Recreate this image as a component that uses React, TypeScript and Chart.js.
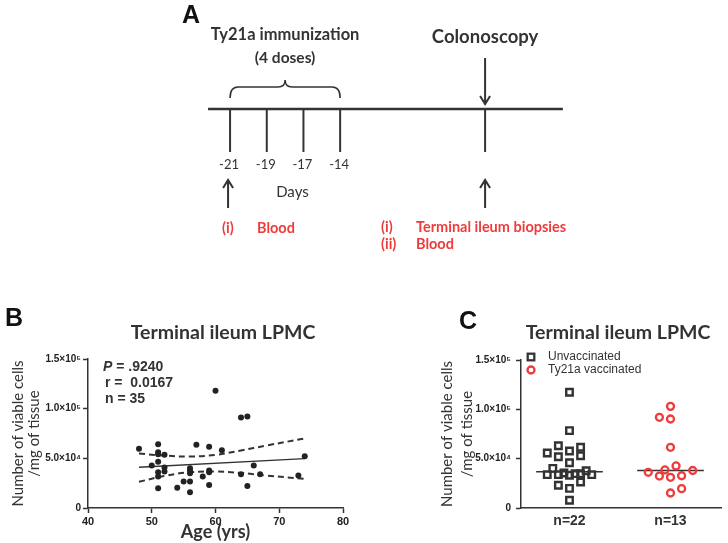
import React, { useEffect, useRef } from 'react';
import { Chart, registerables } from 'chart.js';

Chart.register(...registerables);

// ---------------- Panel A: study timeline ----------------
const doseDayLabels = ['-21', '-19', '-17', '-14'];
const doseSlots = [0, 1, 2, 3];
const colonoscopySlot = 6.95;
const timelineStart = -0.6;
const timelineEnd = 9.07;
const preSampleTags = ['(i)'];
const preSamples = ['Blood'];
const postSampleTags = ['(i)', '(ii)'];
const postSamples = ['Terminal ileum biopsies', 'Blood'];

// ---------------- Panel B: age vs viable cells ----------------
const agesB = [48, 50, 51, 51, 51, 51, 51, 51, 51, 52, 52, 52, 54, 55, 56, 56, 56, 56, 56, 57, 58, 59, 59, 59, 59, 60, 61, 64, 64, 65, 65, 66, 67, 73, 74];
const cellsB = [59600, 42700, 64300, 56200, 54000, 46500, 36000, 31600, 19900, 53500, 40700, 36700, 20500, 26600, 40000, 38000, 35000, 26600, 15800, 63600, 31600, 61600, 37700, 36000, 23200, 118000, 58200, 91200, 34000, 92200, 22200, 42700, 34000, 32600, 52200];
const fitAges = [48, 74];
const fitCells = [41000, 49800];
const bandAges = [48, 52, 56, 60, 64, 68, 74];
const upperBand = [54800, 52800, 51800, 53500, 57900, 62900, 70000];
const lowerBand = [26400, 32300, 36000, 36700, 35300, 32700, 29300];
const statLines = ['= .9240', 'r =  0.0167', 'n = 35'];

// ---------------- Panel C: unvaccinated vs vaccinated ----------------
const groupLabels = ['n=22', 'n=13'];
const groupNames = ['Unvaccinated', 'Ty21a vaccinated'];
const unvacCells = [117300, 78400, 63100, 55700, 57800, 61500, 52000, 53000, 45900, 40200, 37800, 33800, 33800, 35500, 33200, 34800, 34800, 33800, 23000, 26400, 19900, 7800];
const unvacColumn = [0, 0, -2, -4, 0, 2, -2, 2, 0, -3, 3, -4, -2, -1, 0, 1, 2, 4, -2, 2, 0, 0];
const vacCells = [103000, 91900, 90200, 61500, 42600, 38600, 36200, 38000, 32400, 31100, 32700, 19600, 15200];
const vacColumn = [0, -2, 0, 0, 1, -1, -4, 4, -2, 0, 2, 2, 0];

// shared y ticks
const yTickValues = [0, 50000, 100000, 150000];
const yTickLabels = ['0', '5.0\u00d710\u2074', '1.0\u00d710\u2075', '1.5\u00d710\u2075'];

const DARK = '#333333';
const RED = '#ee3b3b';
const CAL = 'Lato, "Open Sans", sans-serif';
const ARIAL = '"Liberation Sans", Arial, sans-serif';

type TextItem = { text: string; x: number; y: number; font: string; color: string; align?: CanvasTextAlign };

function drawTexts(ctx: CanvasRenderingContext2D, items: TextItem[]) {
  ctx.save();
  ctx.textBaseline = 'middle';
  for (const it of items) {
    ctx.font = it.font;
    ctx.fillStyle = it.color;
    ctx.textAlign = it.align || 'center';
    ctx.fillText(it.text, it.x, it.y);
  }
  ctx.restore();
}

function median(vals: number[]) {
  const s = [...vals].sort((a, b) => a - b);
  const m = Math.floor(s.length / 2);
  return s.length % 2 ? s[m] : (s[m - 1] + s[m]) / 2;
}

function arrow(ctx: CanvasRenderingContext2D, x: number, yFrom: number, yTip: number) {
  const dir = yTip > yFrom ? 1 : -1;
  ctx.beginPath();
  ctx.moveTo(x, yFrom);
  ctx.lineTo(x, yTip);
  ctx.moveTo(x - 5, yTip - dir * 8);
  ctx.lineTo(x, yTip);
  ctx.lineTo(x + 5, yTip - dir * 8);
  ctx.stroke();
}

const timelinePlugin = {
  id: 'timeline',
  afterDraw(chart: any) {
    const ctx: CanvasRenderingContext2D = chart.ctx;
    const xs = chart.scales.x;
    const X = (s: number) => xs.getPixelForValue(s);
    const lineY = 109;
    ctx.save();
    ctx.strokeStyle = DARK;
    ctx.lineWidth = 2.3;
    ctx.beginPath();
    ctx.moveTo(X(timelineStart), lineY);
    ctx.lineTo(X(timelineEnd), lineY);
    ctx.stroke();
    ctx.lineWidth = 2;
    [...doseSlots, colonoscopySlot].forEach((s) => {
      ctx.beginPath();
      ctx.moveTo(X(s), lineY);
      ctx.lineTo(X(s), 152);
      ctx.stroke();
    });
    // brace
    const b0 = X(doseSlots[0]);
    const b1 = X(doseSlots[doseSlots.length - 1]);
    const bm = (b0 + b1) / 2;
    ctx.lineWidth = 1.6;
    ctx.beginPath();
    ctx.moveTo(b0, 98);
    ctx.quadraticCurveTo(b0, 87, b0 + 8, 87);
    ctx.lineTo(bm - 7, 87);
    ctx.quadraticCurveTo(bm, 87, bm, 80);
    ctx.quadraticCurveTo(bm, 87, bm + 7, 87);
    ctx.lineTo(b1 - 8, 87);
    ctx.quadraticCurveTo(b1, 87, b1, 98);
    ctx.stroke();
    // arrows
    ctx.lineWidth = 2;
    arrow(ctx, X(colonoscopySlot), 58, 104);
    arrow(ctx, X(doseSlots[0]) - 2, 208, 180);
    arrow(ctx, X(colonoscopySlot), 208, 180);
    ctx.restore();

    const items: TextItem[] = [
      { text: 'A', x: 191, y: 16, font: `bold 25px ${ARIAL}`, color: '#111' },
      { text: 'Ty21a immunization', x: bm, y: 35, font: `bold 16.5px ${CAL}`, color: DARK },
      { text: '(4 doses)', x: bm, y: 58, font: `bold 15.5px ${CAL}`, color: DARK },
      { text: 'Colonoscopy', x: X(colonoscopySlot), y: 37, font: `bold 18.5px ${CAL}`, color: DARK },
      { text: 'Days', x: X(1.7), y: 192, font: `15px ${CAL}`, color: DARK },
    ];
    doseDayLabels.forEach((t, i) => items.push({ text: t, x: X(doseSlots[i]) - 1, y: 165, font: `13px ${CAL}`, color: DARK }));
    const redFont = `bold 14.5px ${CAL}`;
    preSamples.forEach((t, i) => {
      items.push({ text: preSampleTags[i], x: 222, y: 228 + i * 17, font: redFont, color: RED, align: 'left' });
      items.push({ text: t, x: 257, y: 228 + i * 17, font: redFont, color: RED, align: 'left' });
    });
    postSamples.forEach((t, i) => {
      items.push({ text: postSampleTags[i], x: 381, y: 227 + i * 17, font: redFont, color: RED, align: 'left' });
      items.push({ text: t, x: 416, y: 227 + i * 17, font: redFont, color: RED, align: 'left' });
    });
    drawTexts(ctx, items);
  },
};

function makeTextPlugin(id: string, items: TextItem[], extra?: (chart: any) => void) {
  return {
    id,
    afterDraw(chart: any) {
      drawTexts(chart.ctx, items);
      if (extra) extra(chart);
    },
  };
}

function yScale(width: number, titleLineHeight: number, titlePad: number, tickPad: number) {
  const size = 15;
  return {
    type: 'linear' as const,
    min: 0,
    max: 150000,
    afterBuildTicks: (s: any) => {
      s.ticks = yTickValues.map((v) => ({ value: v }));
    },
    afterFit: (s: any) => {
      s.width = width;
    },
    ticks: {
      callback: (v: any) => {
        const i = yTickValues.indexOf(Number(v));
        return i >= 0 ? yTickLabels[i] : '';
      },
      font: { family: ARIAL, weight: 'bold' as const, size: 10 },
      color: '#222',
      padding: tickPad,
    },
    grid: { drawOnChartArea: false, drawTicks: true, tickLength: 5, tickColor: DARK, tickWidth: 1.5 },
    border: { color: DARK, width: 1.5 },
    title: {
      display: true,
      text: ['Number of viable cells', '/mg of tissue'],
      font: { family: CAL, size, lineHeight: titleLineHeight / size },
      color: DARK,
      padding: { top: titlePad, bottom: 0 },
    },
  };
}

function makeA(canvas: HTMLCanvasElement) {
  return new Chart(canvas, {
    type: 'scatter',
    data: { datasets: [{ data: [] }] },
    options: {
      animation: false,
      responsive: false,
      layout: { padding: 0 },
      plugins: { legend: { display: false }, tooltip: { enabled: false } },
      scales: {
        x: { type: 'linear', min: -6.27, max: 13.57, display: false },
        y: { type: 'linear', min: 0, max: 1, display: false },
      },
    },
    plugins: [timelinePlugin],
  } as any);
}

function makeB(canvas: HTMLCanvasElement) {
  const statsPlugin = makeTextPlugin(
    'textB',
    [
      { text: 'B', x: 14, y: 19, font: `bold 25px ${ARIAL}`, color: '#111' },
      { text: 'Terminal ileum LPMC', x: 223, y: 33, font: `bold 19.5px ${CAL}`, color: DARK },
      { text: statLines[1], x: 105, y: 83, font: `bold 14px ${ARIAL}`, color: DARK, align: 'left' },
      { text: statLines[2], x: 105, y: 99, font: `bold 14px ${ARIAL}`, color: DARK, align: 'left' },
    ],
    (chart) => {
      const ctx: CanvasRenderingContext2D = chart.ctx;
      ctx.save();
      ctx.textBaseline = 'middle';
      ctx.textAlign = 'left';
      ctx.fillStyle = DARK;
      ctx.font = `italic bold 14px ${ARIAL}`;
      ctx.fillText('P', 103, 67);
      const w = ctx.measureText('P ').width;
      ctx.font = `bold 14px ${ARIAL}`;
      ctx.fillText(statLines[0], 103 + w, 67);
      ctx.restore();
    }
  );
  return new Chart(canvas, {
    type: 'scatter',
    data: {
      datasets: [
        {
          label: 'Subjects',
          data: agesB.map((a, i) => ({ x: a, y: cellsB[i] })),
          pointRadius: 3,
          pointBackgroundColor: '#222',
          pointBorderWidth: 0,
          showLine: false,
        },
        {
          label: 'Linear fit',
          data: fitAges.map((a, i) => ({ x: a, y: fitCells[i] })),
          showLine: true,
          borderColor: DARK,
          borderWidth: 1.3,
          pointRadius: 0,
        },
        {
          label: 'Upper 95% CI',
          data: bandAges.map((a, i) => ({ x: a, y: upperBand[i] })),
          showLine: true,
          borderColor: DARK,
          borderWidth: 2,
          borderDash: [6, 4],
          tension: 0.4,
          pointRadius: 0,
        },
        {
          label: 'Lower 95% CI',
          data: bandAges.map((a, i) => ({ x: a, y: lowerBand[i] })),
          showLine: true,
          borderColor: DARK,
          borderWidth: 2,
          borderDash: [6, 4],
          tension: 0.4,
          pointRadius: 0,
        },
      ],
    },
    options: {
      animation: false,
      responsive: false,
      layout: { padding: { left: 0, right: 17, top: 59, bottom: 0 } },
      plugins: { legend: { display: false }, tooltip: { enabled: false } },
      scales: {
        x: {
          type: 'linear',
          min: 40,
          max: 80,
          afterFit: (s: any) => {
            s.height = 35;
          },
          ticks: { stepSize: 10, font: { family: ARIAL, weight: 'bold', size: 11 }, color: '#222', padding: 2 },
          grid: { drawOnChartArea: false, drawTicks: true, tickLength: 5, tickColor: DARK, tickWidth: 1.5 },
          border: { color: DARK, width: 1.5 },
          title: { display: true, text: 'Age (yrs)', font: { family: CAL, size: 18, weight: 'bold' }, color: DARK, padding: 0 },
        },
        y: yScale(88, 16, 10, 2),
      },
    },
    plugins: [statsPlugin],
  } as any);
}

function makeC(canvas: HTMLCanvasElement) {
  const jitterStep = 0.055;
  const half = 0.33;
  const m1 = median(unvacCells);
  const m2 = median(vacCells);
  const textPlugin = makeTextPlugin(
    'textC',
    [
      { text: 'C', x: 88, y: 22, font: `bold 25px ${ARIAL}`, color: '#111' },
      { text: 'Terminal ileum LPMC', x: 238, y: 33, font: `bold 19.5px ${CAL}`, color: DARK },
      { text: groupNames[0], x: 168, y: 57, font: `12px ${ARIAL}`, color: DARK, align: 'left' },
      { text: groupNames[1], x: 168, y: 70, font: `12px ${ARIAL}`, color: DARK, align: 'left' },
    ],
    (chart) => {
      const ctx: CanvasRenderingContext2D = chart.ctx;
      ctx.save();
      ctx.lineWidth = 2.3;
      ctx.strokeStyle = DARK;
      ctx.strokeRect(151 - 3.3, 57 - 3.3, 6.6, 6.6);
      ctx.strokeStyle = RED;
      ctx.beginPath();
      ctx.arc(151, 70, 3.5, 0, Math.PI * 2);
      ctx.stroke();
      ctx.restore();
    }
  );
  return new Chart(canvas, {
    type: 'scatter',
    data: {
      datasets: [
        {
          label: groupNames[0],
          data: unvacCells.map((v, i) => ({ x: 1 + unvacColumn[i] * jitterStep, y: v })),
          pointStyle: 'rect',
          pointRadius: 4.6,
          pointBorderWidth: 2.4,
          pointBorderColor: DARK,
          pointBackgroundColor: 'rgba(255,255,255,0)',
        },
        {
          label: groupNames[1],
          data: vacCells.map((v, i) => ({ x: 2 + vacColumn[i] * jitterStep, y: v })),
          pointStyle: 'circle',
          pointRadius: 3.5,
          pointBorderWidth: 2.3,
          pointBorderColor: RED,
          pointBackgroundColor: 'rgba(255,255,255,0)',
        },
        {
          label: 'Median unvaccinated',
          data: [{ x: 1 - half, y: m1 }, { x: 1 + half, y: m1 }],
          showLine: true,
          borderColor: DARK,
          borderWidth: 1.5,
          pointRadius: 0,
        },
        {
          label: 'Median vaccinated',
          data: [{ x: 2 - half, y: m2 }, { x: 2 + half, y: m2 }],
          showLine: true,
          borderColor: DARK,
          borderWidth: 1.5,
          pointRadius: 0,
        },
      ],
    },
    options: {
      animation: false,
      responsive: false,
      layout: { padding: { left: 0, right: 3, top: 60, bottom: 0 } },
      plugins: { legend: { display: false }, tooltip: { enabled: false } },
      scales: {
        x: {
          type: 'linear',
          min: 0.52,
          max: 2.5,
          afterBuildTicks: (s: any) => {
            s.ticks = [{ value: 1 }, { value: 2 }];
          },
          afterFit: (s: any) => {
            s.height = 35;
          },
          ticks: {
            callback: (v: any) => groupLabels[Number(v) - 1] ?? '',
            font: { family: ARIAL, weight: 'bold', size: 14 },
            color: DARK,
            padding: 5,
          },
          grid: { drawOnChartArea: false, drawTicks: false },
          border: { color: DARK, width: 1.5 },
        },
        y: yScale(141, 20, 57, 5),
      },
    },
    plugins: [textPlugin],
  } as any);
}

export default function App() {
  const aRef = useRef<HTMLCanvasElement>(null);
  const bRef = useRef<HTMLCanvasElement>(null);
  const cRef = useRef<HTMLCanvasElement>(null);
  useEffect(() => {
    const charts = [makeA(aRef.current!), makeB(bRef.current!), makeC(cRef.current!)];
    return () => charts.forEach((c) => c.destroy());
  }, []);
  return (
    <div style={{ position: 'absolute', left: 0, top: 0, width: 728, height: 543, background: '#fff', overflow: 'hidden' }}>
      <canvas ref={aRef} width={728} height={260} style={{ position: 'absolute', left: 0, top: 0 }} />
      <canvas ref={bRef} width={360} height={243} style={{ position: 'absolute', left: 0, top: 300 }} />
      <canvas ref={cRef} width={348} height={243} style={{ position: 'absolute', left: 380, top: 300 }} />
    </div>
  );
}
